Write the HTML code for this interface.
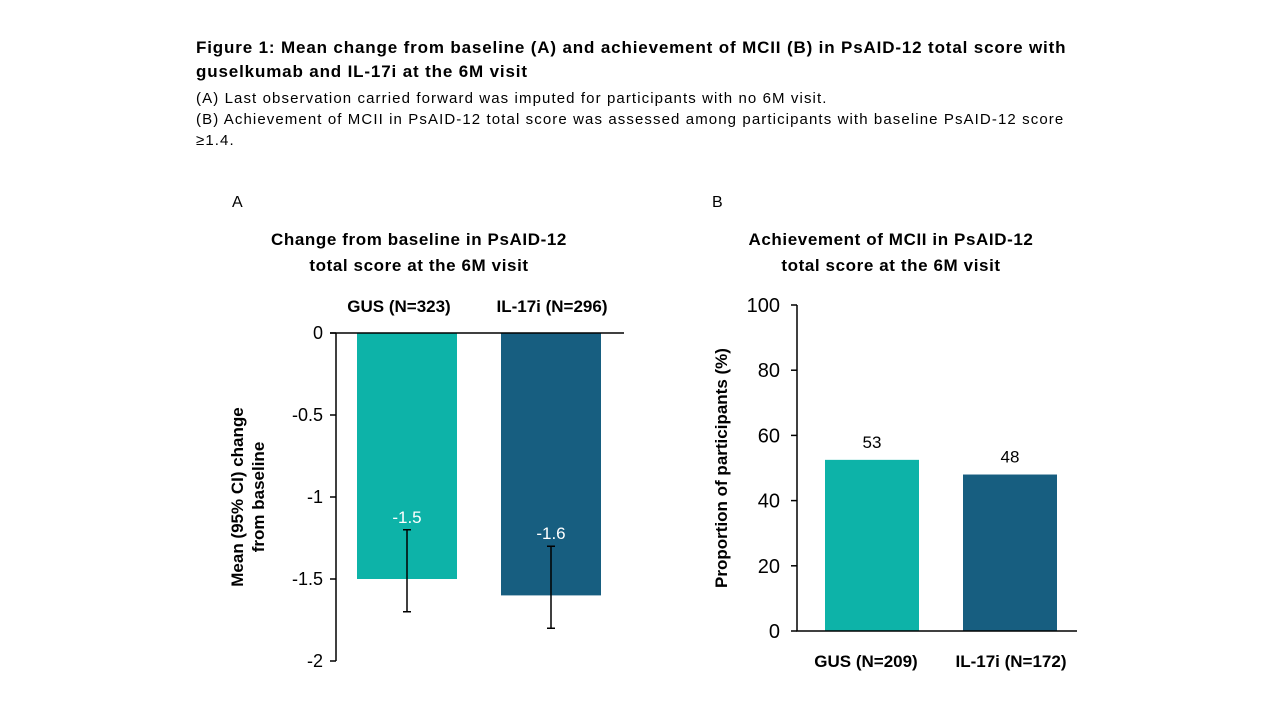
<!DOCTYPE html>
<html><head><meta charset="utf-8"><style>
body{margin:0;width:1280px;height:720px;background:#fff;font-family:"Liberation Sans",sans-serif;overflow:hidden}
.t{position:absolute;left:196px;color:#000;white-space:nowrap}
</style></head><body>
<div class="t" style="top:36px;font-weight:bold;font-size:17px;line-height:24px;letter-spacing:0.85px">Figure 1: Mean change from baseline (A) and achievement of MCII (B) in PsAID-12 total score with<br>guselkumab and IL-17i at the 6M visit</div>
<div class="t" style="top:88px;font-size:15px;line-height:21px;letter-spacing:1.1px">(A) Last observation carried forward was imputed for participants with no 6M visit.<br>(B) Achievement of MCII in PsAID-12 total score was assessed among participants with baseline PsAID-12 score<br>≥1.4.</div>
<svg id="c" width="1280" height="720" style="position:absolute;left:0;top:0" font-family="Liberation Sans, sans-serif"></svg>
<script>
const catsA=["GUS  (N=323)","IL-17i (N=296)"];
const valsA=[-1.5,-1.6];
const loA=[-1.7,-1.8];
const hiA=[-1.2,-1.3];
const ticksA=[0,-0.5,-1,-1.5,-2];
const tickLabA=["0","-0.5","-1","-1.5","-2"];
const catsB=["GUS  (N=209)","IL-17i (N=172)"];
const valsB=[52.5,48];
const labB=["53","48"];
const ticksB=[0,20,40,60,80,100];
const colors=["#0db3a8","#175e80"];
const svg=document.getElementById('c');
const NS="http://www.w3.org/2000/svg";
function mk(tag,a,txt){const e=document.createElementNS(NS,tag);for(const k in a)e.setAttribute(k,a[k]);if(txt!==undefined)e.textContent=txt;svg.appendChild(e);return e;}
// Chart A
const yA=v=>333+(0-v)*164;
const xA=i=>407+i*144;
let e;
e=mk('text',{x:232,y:207,'font-size':16},'A');


e=mk('text',{x:419,y:245,'font-size':17,'font-weight':'bold','text-anchor':'middle','letter-spacing':0.6},'Change from baseline in PsAID-12');


e=mk('text',{x:419,y:271,'font-size':17,'font-weight':'bold','text-anchor':'middle','letter-spacing':0.6},'total score at the 6M visit');


valsA.forEach((v,i)=>{
 e=mk('rect',{x:xA(i)-50,y:yA(0),width:100,height:yA(v)-yA(0),fill:colors[i]});
 
 
 e=mk('path',{d:`M${xA(i)} ${yA(hiA[i])}V${yA(loA[i])}M${xA(i)-4} ${yA(hiA[i])}h8M${xA(i)-4} ${yA(loA[i])}h8`,stroke:'#000','stroke-width':1.5,fill:'none'});
 
 
 e=mk('text',{x:xA(i),y:yA(hiA[i])-7,'font-size':17,fill:'#fff','text-anchor':'middle'},String(v));
 
 
 e=mk('text',{x:xA(i)-(i?-1:8),y:312,'font-size':17,'font-weight':'bold','text-anchor':'middle','xml:space':'preserve'},catsA[i]);
 
 
});
e=mk('path',{d:`M336 ${yA(0)}V${yA(-2)}M330 ${yA(0)}H624`,stroke:'#000','stroke-width':1.5,fill:'none'});


ticksA.forEach((t,i)=>{
 e=mk('path',{d:`M330 ${yA(t)}H336`,stroke:'#000','stroke-width':1.5});
 
 
 e=mk('text',{x:323,y:yA(t)+6,'font-size':18,'text-anchor':'end'},tickLabA[i]);
 
 
});
e=mk('text',{transform:'translate(243,497) rotate(-90)','font-size':17,'font-weight':'bold','text-anchor':'middle'},'Mean (95% CI) change');


e=mk('text',{transform:'translate(264,497) rotate(-90)','font-size':17,'font-weight':'bold','text-anchor':'middle'},'from baseline');


// Chart B
const yB=v=>631-v*3.26;
const xB=i=>872+i*138;
e=mk('text',{x:712,y:207,'font-size':16},'B');


e=mk('text',{x:891,y:245,'font-size':17,'font-weight':'bold','text-anchor':'middle','letter-spacing':0.6},'Achievement of MCII in PsAID-12');


e=mk('text',{x:891,y:271,'font-size':17,'font-weight':'bold','text-anchor':'middle','letter-spacing':0.6},'total score at the 6M visit');


valsB.forEach((v,i)=>{
 e=mk('rect',{x:xB(i)-47,y:yB(v),width:94,height:yB(0)-yB(v),fill:colors[i]});
 
 
 e=mk('text',{x:xB(i),y:yB(v)-12,'font-size':17,'text-anchor':'middle'},labB[i]);
 
 
 e=mk('text',{x:xB(i)-(i?-1:6),y:667,'font-size':17,'font-weight':'bold','text-anchor':'middle','xml:space':'preserve'},catsB[i]);
 
 
});
e=mk('path',{d:`M797 ${yB(100)}V${yB(0)}H1077`,stroke:'#000','stroke-width':1.5,fill:'none'});


ticksB.forEach(t=>{
 e=mk('path',{d:`M791 ${yB(t)}H797`,stroke:'#000','stroke-width':1.5});
 
 
 e=mk('text',{x:780,y:yB(t)+7,'font-size':20,'text-anchor':'end'},String(t));
 
 
});
e=mk('text',{transform:'translate(727,468) rotate(-90)','font-size':17,'font-weight':'bold','text-anchor':'middle'},'Proportion of participants (%)');


</script>
</body></html>
